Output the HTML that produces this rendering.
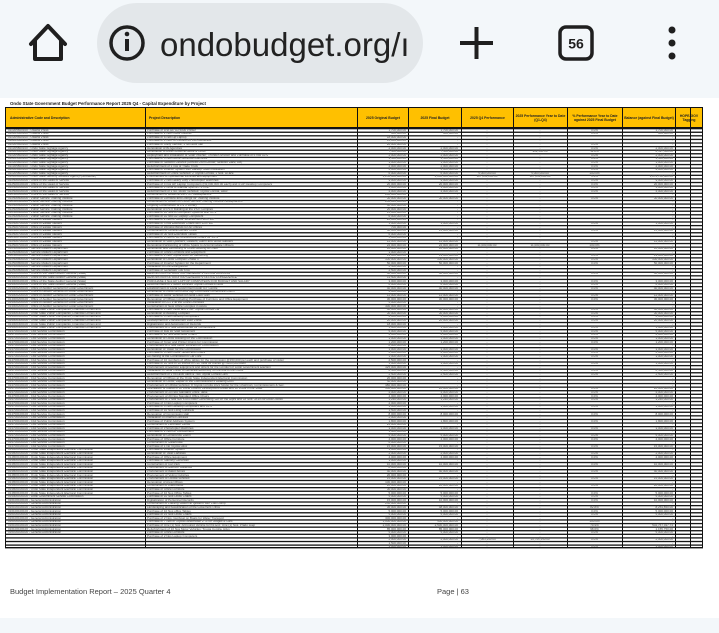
<!DOCTYPE html>
<html><head><meta charset="utf-8"><style>
*{margin:0;padding:0;box-sizing:border-box}
body{width:719px;height:633px;overflow:hidden;background:#fff;position:relative;font-family:"Liberation Sans",sans-serif}
.a{position:absolute}
.col{position:absolute;top:128.6px;white-space:pre;font-size:3px;line-height:3.59px;color:#555;overflow:hidden;height:419px}
.r{text-align:right}
.c{text-align:center}
.v{position:absolute;top:107px;height:441px;width:1.2px;background:#111}
.h{position:absolute;top:107px;height:21px;background:#ffc000;border:1px solid #111;font-size:3.4px;font-weight:bold;color:#222;display:flex;align-items:center;justify-content:center;text-align:center;line-height:4px}
</style></head><body>
<div class="a" style="left:0;top:0;width:719px;height:98px;background:#f3f7fa"></div>
<div class="a" style="left:0;top:618px;width:719px;height:15px;background:#f3f7fa"></div>
<svg class="a" style="left:0;top:0" width="719" height="95">
<path d="M31 44 L48 26 L65 44 M35 40 V59 H61 V40" fill="none" stroke="#1f1f1f" stroke-width="4" stroke-linejoin="round" stroke-linecap="round"/>
<rect x="97" y="3" width="326" height="80" rx="40" fill="#e3e7ea"/>
<circle cx="127" cy="43" r="16" fill="none" stroke="#1f1f1f" stroke-width="3.5"/>
<rect x="125" y="39" width="4" height="12" fill="#1f1f1f"/><circle cx="127" cy="34" r="2.3" fill="#1f1f1f"/>
<text x="160" y="56" font-family="Liberation Sans, sans-serif" font-size="33" fill="#222">ondobudget.org/ı</text>
<path d="M460 43 H493 M476.5 27 V59" stroke="#1f1f1f" stroke-width="4"/>
<rect x="560" y="27" width="32" height="32" rx="6" fill="none" stroke="#1f1f1f" stroke-width="3.5"/>
<text x="576" y="48.5" text-anchor="middle" font-family="Liberation Sans, sans-serif" font-size="14" font-weight="bold" fill="#1f1f1f">56</text>
<circle cx="672" cy="30" r="3.5" fill="#1f1f1f"/><circle cx="672" cy="43" r="3.5" fill="#1f1f1f"/><circle cx="672" cy="56" r="3.5" fill="#1f1f1f"/>
</svg>
<div class="a" style="left:10px;top:100.5px;font-size:4.4px;font-weight:bold;color:#222">Ondo State Government Budget Performance Report 2025 Q4 - Capital Expenditure by Project</div>
<svg class="a" style="left:5px;top:128px" width="698" height="421">
<defs><pattern id="p" width="698" height="3.59" patternUnits="userSpaceOnUse"><rect width="698" height="1.3" fill="#111"/></pattern></defs>
<rect width="698" height="420" fill="url(#p)"/>
<rect y="419" width="698" height="1.4" fill="#111"/>
</svg>
<div class="h" style="left:5px;width:141px;justify-content:flex-start;padding-left:4px">Administrative Code and Description</div>
<div class="h" style="left:145px;width:213px;justify-content:flex-start;padding-left:3px">Project Description</div>
<div class="h" style="left:357px;width:52px">2025 Original Budget</div>
<div class="h" style="left:408px;width:54px">2025 Final Budget</div>
<div class="h" style="left:461px;width:53px">2025 Q4 Performance</div>
<div class="h" style="left:513px;width:55px">2025 Performance Year to Date (Q1-Q4)</div>
<div class="h" style="left:567px;width:56px">% Performance Year to Date against 2025 Final Budget</div>
<div class="h" style="left:622px;width:54px">Balance (against Final Budget)</div>
<div class="h" style="left:675px;width:28px">HOPE-GOV Tagging</div>
<div class="v" style="left:5px"></div><div class="v" style="left:145px"></div><div class="v" style="left:357px"></div><div class="v" style="left:408px"></div><div class="v" style="left:461px"></div><div class="v" style="left:513px"></div><div class="v" style="left:567px"></div><div class="v" style="left:622px"></div><div class="v" style="left:675px"></div><div class="v" style="left:690px"></div><div class="v" style="left:702px"></div>
<div class="col" style="left:8px;width:136px">011305600100 - Owena Press
011305600100 - Owena Press
011305600100 - Owena Press
011305600100 - Owena Press
011305600100 - Owena Press
011305800100 - Ondo State Signage Agency
011305800100 - Ondo State Signage Agency
011305800100 - Ondo State Signage Agency
011305800100 - Ondo State Signage Agency
011305800100 - Ondo State Signage Agency
011305800100 - Ondo State Signage Agency
011305800100 - Ondo State Signage Agency
011305800100 - Ondo State Signage Agency
011306000100 - Ondo State Security Network Agency (Amotekun)
012500100100 - Office of the Head of Service
012500100100 - Office of the Head of Service
012500100100 - Office of the Head of Service
012500100100 - Office of the Head of Service
012500100100 - Office of the Head of Service
012500600100 - Public Service Training Institute
012500600100 - Public Service Training Institute
012500600100 - Public Service Training Institute
012500600100 - Public Service Training Institute
012500600100 - Public Service Training Institute
012500600100 - Public Service Training Institute
012500700100 - Office of Estate Valuers
012500700100 - Office of Estate Valuers
012500700100 - Office of Estate Valuers
012500700100 - Office of Estate Valuers
012500700100 - Office of Estate Valuers
012500700100 - Office of Estate Valuers
012500700100 - Office of Estate Valuers
012500700100 - Office of Estate Valuers
012500800100 - Service Matters Department
012500800100 - Service Matters Department
012500800100 - Service Matters Department
012500800100 - Service Matters Department
012500800100 - Service Matters Department
012500800100 - Service Matters Department
012500800100 - Service Matters Department
014000100100 - Office of the State Auditor General (State)
014000100100 - Office of the State Auditor General (State)
014000100100 - Office of the State Auditor General (State)
014000100100 - Office of the State Auditor General (State)
014000200100 - Office of Auditor General for Local Government
014000200100 - Office of Auditor General for Local Government
014000200100 - Office of Auditor General for Local Government
014000200100 - Office of Auditor General for Local Government
014000200100 - Office of Auditor General for Local Government
014000200100 - Office of Auditor General for Local Government
014000300100 - Ondo State Public Complaints, Financial Crimes and
014000300100 - Ondo State Public Complaints, Financial Crimes and
014000300100 - Ondo State Public Complaints, Financial Crimes and
014000300100 - Ondo State Public Complaints, Financial Crimes and
014000300100 - Ondo State Public Complaints, Financial Crimes and
014000300100 - Ondo State Public Complaints, Financial Crimes and
014700100100 - Civil Service Commission
014700100100 - Civil Service Commission
014700100100 - Civil Service Commission
014700100100 - Civil Service Commission
014700100100 - Civil Service Commission
014700100100 - Civil Service Commission
014700100100 - Civil Service Commission
014700100100 - Civil Service Commission
014700100100 - Civil Service Commission
014700100100 - Civil Service Commission
014700100100 - Civil Service Commission
014700100100 - Civil Service Commission
014700100100 - Civil Service Commission
014700100100 - Civil Service Commission
014700100100 - Civil Service Commission
014700100100 - Civil Service Commission
014700100100 - Civil Service Commission
014700100100 - Civil Service Commission
014700100100 - Civil Service Commission
014700100100 - Civil Service Commission
014700100100 - Civil Service Commission
014700100100 - Civil Service Commission
014700100100 - Civil Service Commission
014700100100 - Civil Service Commission
014700100100 - Civil Service Commission
014700100100 - Civil Service Commission
014700100100 - Civil Service Commission
014700100100 - Civil Service Commission
014700100100 - Civil Service Commission
014700100100 - Civil Service Commission
014700100100 - Civil Service Commission
014700100100 - Civil Service Commission
014700100100 - Civil Service Commission
014800100100 - Ondo State Independent Electoral Commission
014800100100 - Ondo State Independent Electoral Commission
014800100100 - Ondo State Independent Electoral Commission
014800100100 - Ondo State Independent Electoral Commission
014800100100 - Ondo State Independent Electoral Commission
014800100100 - Ondo State Independent Electoral Commission
014800100100 - Ondo State Independent Electoral Commission
014800100100 - Ondo State Independent Electoral Commission
014800100100 - Ondo State Independent Electoral Commission
014800100100 - Ondo State Independent Electoral Commission
014800100100 - Ondo State Independent Electoral Commission
014800100100 - Ondo State Independent Electoral Commission
014800100100 - Ondo State Independent Electoral Commission
014900100100 - Local Government Service Commission
016100100100 - General Administration
016100100100 - General Administration
016100100100 - General Administration
016100100100 - General Administration
016100100100 - General Administration
016100100100 - General Administration
016100100100 - General Administration
016100100100 - General Administration
016100100100 - General Administration
016100100100 - General Administration</div>
<div class="col" style="left:147px;width:208px">Purchase of 1No HP A3 5000 Printer
Purchase of 2 Nos Office Cabinet
Purchase of 8 Nos Hp Laptop
Purchase of 1 Nos. of Perkins 60 KVA Generator
Purchase of Utility Vehicle, 1 No Hilux Van
Renovation of Bi Agencies
Renovation of Area Offices at Akure &amp; Ondo
Deployment and Installation of Solar Inverter, Thunder Arrestor and Purchase of 6 nos UPS
Purchase of 4 Nos Dome Workflow Machines
Purchase of Network Devices (Access Point Router, Network Rack, etc)
Refurbishment of 1 nos of Trade Truck
Purchase of Inverter System with Backup Solar Installation
Refurbishment of Office Vehicles: 2 Toyota Corolla, 1 Nos. Hi-ace
Procurement of Operational Vehicles and Equipment
Purchase of 2 Nos Heavy Duty Photocopier Machines
Purchase of 4 nos HP Laptop Computers (N3,000,000.00 each) and 4 HP Desktop Computers
Purchase of 1 Units of Manual Split A/C 1.5 HP
Refurbishment of 1 No. Motor Vehicles: Toyota Corolla, Hilux
Construction of Hostel at the PSTI Headquarters
Purchase of Furniture and Fittings for Training Institute
Construction of Hostel for Public Service Training Institute Headquarters
Ongoing Construction of PSTI Library
Renovation of PSTI Building at the PSTI Complex
Purchase of 10 Nos of Computer Systems with UPS
Purchase of 10 nos HP Laptop Computers
Purchase of 2 Nos of Motor Vehicles with 12% VAT
Purchase of 5 nos Executive Chairs with 12% VAT
Purchase of Window Blinds for All Offices
Construction of Central Record Office
Purchase of 30 Nos Executive Tables
Purchase of 1 Nos of HP/A Executive Chairs for VIPS
Renovation of Staff Quarters, Ladders, Alarm and Wood Markers
Renovation/Partitioning of Office Space to Accommodate Officers
Renovation and Re-roofing of Office Building at Ondo
Purchase of Office Furniture and Equipment
Purchase of 1 Nos Toyota Hilux for Monitoring
Renovation of Office Complex Phase II
Purchase of Inverter System for the Department
Installation of Fire Extinguisher
Purchase of Generator 100 KVA
RENOVATION OF AUDITOR GENERAL'S OFFICE BUILDING
RENOVATION OF AUDITOR GENERAL'S OFFICE CONFERENCE
PURCHASE 4 Nos HP LAPTOP COMPUTERS FOR BUDGET AND SALARY
Refurbishment of 1 Motor Vehicles Toyota Corolla &amp; Hilux
Establishment of Local Government Audit ICT Centre
Renovation of Local Govt Audit Mgt Committee Conference Room
Purchase of Motor Vehicles for Audit Field Staff
Renovation of Offices including Purchase of Furniture and Office Equipment
Installation of CCTV at the Office Premises
Construction of New Office Complex in Akure
Purchase of 1 Nos. Hilux and 1 No. Toyota Corolla Car
Renovation of Building Complex
Purchase of 4 Nos Desktop Computers
Development of Procurement Web Portal
Digitalization and Automation of Records
Procurement of 2 Nos Refurbished Air Conditioners
Purchase of Bus for Staff Movement
Purchase of 20 Nos Executive Chairs
Renovation of Office Building for the Commission
Purchase of Toner and Printer Drums for Commission
Procurement of 2 Nos Motor Vehicles for Commission
Renovation of Tower for the Commission
Purchase of 6 Nos Office Tables and Chairs
Re-roofing of the Commission's Car Park
Purchase of 10 numbers of office tables for the commission @150,000 per each and purchase of visitor
Purchase of 10 Nos of 18 inches of CRT fans for offices @ N100,000 each
Procurement of Election Equipment and others for the Conduct of Local Government Election
Installation of Solar Panel to Generate Electricity for the use of the Office
Refurbishment of 1 no Hilux Vans &amp; Two Toyota Corolla Cars
Renovation of Offices at the Ondo State Independent Electoral Commission
Renovation of Office, Repair of the Commissioner's Leaking Roof
Procurement of Official Vehicles: 8 Toyota Corolla 2022 Model for the Chairman, Commissioners &amp; Sec.
Delineation of Wards in 18 Local Council Development Areas and 18 LGAs in the State
Procurement of 20 Nos Standard Office Table
Procurement of 20 Nos Standard Office Chairs
Procurement of 1 Nos 500 KVA Power Generating Set for the Hqtrs and 18 Nos. 3KVA for Area Offices
Purchase of 4 Nos Laptop Computers
Purchase of 4 Nos Desktop Computers and UPS
Purchase of 10 Nos Filing Cabinets
Renovation of Commission Hall
Installation of Internet Facilities
Purchase of Public Address System
Construction of Perimeter Fence
Purchase of Photocopier Machines
Purchase of 2 Nos Air Conditioners
Renovation of Conference Room
Purchase of Office Furniture
Construction of Gatehouse
Purchase of 1 No Toyota Hilux
Purchase of Inverter System
Renovation of Toilet Facilities
Purchase of Office Equipment
Purchase of Standby Generator
Construction of Car Park
Procurement of Election Materials
Procurement of Ballot Boxes
Procurement of Voting Cubicles
Procurement of Official Vehicles
Renovation of Area Offices
Construction of Warehouse
Purchase of Office Furniture
Purchase of 10 Nos Office Tables
Purchase of 10 Nos Office Chairs
Digitalization of Personnel Records
Construction of Fuelling Station at Igbatoro with Fuel Dump
Landscaping and beautification of the Governors Office
Purchase of 10 Nos office Tables
Purchase of 15 Nos Office Chairs
Purchase of 2 Nos. Gunboat on Boats for Water Transport
Purchase of 7 Nos of Toyota Landcruiser 2.7L for Judges &amp; Cars
Purchase of One (1) Nos. Armoured Vehicle for his Exc. One (1) Nos. Prado Jeep
Refurbishment of 10 Nos Motor Vehicles: Toyota Corolla, Hilux
Purchase of Office Furniture
Purchase of 2 Nos Laptop Computers</div>
<div class="col r" style="left:359px;width:47px">1,700,000.00
300,000.00
18,000,000.00
15,000,000.00
20,000,000.00
2,000,000.00
7,500,000.00
2,000,000.00
1,500,000.00
3,000,000.00
2,000,000.00
4,000,000.00
6,000,000.00
1,250,000,000.00
9,000,000.00
20,000,000.00
1,000,000.00
4,000,000.00
200,000,000.00
30,000,000.00
250,000,000.00
40,000,000.00
20,000,000.00
15,000,000.00
6,000,000.00
20,000,000.00
1,000,000.00
700,000.00
60,000,000.00
6,000,000.00
5,000,000.00
12,000,000.00
22,000,000.00
10,000,000.00
3,000,000.00
13,000,000.00
100,000,000.00
50,000,000.00
2,500,000.00
2,500,000.00
40,000,000.00
11,500,000.00
3,000,000.00
6,000,000.00
40,000,000.00
4,000,000.00
12,000,000.00
30,000,000.00
5,000,000.00
300,000,000.00
40,000,000.00
30,000,000.00
2,000,000.00
20,000,000.00
18,000,000.00
1,600,000.00
5,000,000.00
2,000,000.00
3,000,000.00
1,200,000.00
8,000,000.00
3,000,000.00
2,000,000.00
3,000,000.00
2,500,000.00
1,000,000.00
325,000,000.00
6,500,000.00
2,500,000.00
20,000,000.00
50,000,000.00
480,000,000.00
100,000,000.00
4,000,000.00
4,000,000.00
3,240,000.00
2,000,000.00
3,000,000.00
1,500,000.00
8,000,000.00
2,000,000.00
1,800,000.00
25,000,000.00
3,000,000.00
1,600,000.00
5,000,000.00
4,000,000.00
6,000,000.00
15,000,000.00
3,000,000.00
2,000,000.00
4,000,000.00
3,000,000.00
10,000,000.00
8,000,000.00
40,000,000.00
20,000,000.00
15,000,000.00
100,000,000.00
20,000,000.00
30,000,000.00
5,000,000.00
5,000,000.00
15,000,000.00
250,000,000.00
36,000,000.00
5,000,000.00
5,000,000.00
300,000,000.00
1,000,000,000.00
2,000,000,000.00
85,000,000.00
5,000,000.00
3,000,000.00
2,000,000.00
1,500,000.00
1,000,000.00</div>
<div class="col r" style="left:410px;width:48px">1,700,000.00
300,000.00
-
-
-
2,000,000.00
7,500,000.00
2,000,000.00
1,500,000.00
3,000,000.00
2,000,000.00
4,000,000.00
6,000,000.00
2,000,000,000.00
9,000,000.00
20,000,000.00
1,000,000.00
4,000,000.00
-
30,000,000.00
-
-
-
-
-
-
1,000,000.00
-
15,000,000.00
-
-
12,000,000.00
22,000,000.00
10,000,000.00
-
13,000,000.00
100,000,000.00
50,000,000.00
-
-
40,000,000.00
-
3,000,000.00
6,000,000.00
40,000,000.00
-
12,000,000.00
30,000,000.00
-
-
40,000,000.00
30,000,000.00
2,000,000.00
20,000,000.00
-
1,600,000.00
5,000,000.00
2,000,000.00
3,000,000.00
1,200,000.00
-
3,000,000.00
2,000,000.00
3,000,000.00
-
1,000,000.00
-
6,500,000.00
2,500,000.00
-
-
-
20,000,000.00
4,000,000.00
4,000,000.00
3,240,000.00
-
3,000,000.00
-
8,000,000.00
-
1,800,000.00
-
3,000,000.00
-
5,000,000.00
4,000,000.00
-
15,000,000.00
-
2,000,000.00
4,000,000.00
-
10,000,000.00
-
40,000,000.00
-
15,000,000.00
-
20,000,000.00
-
5,000,000.00
5,000,000.00
10,000,000.00
-
48,000,000.00
5,000,000.00
5,000,000.00
-
500,000,000.00
2,500,000,000.00
85,000,000.00
5,000,000.00
-
2,000,000.00
-
1,000,000.00</div>
<div class="col c" style="left:461px;width:52px">-
-
-
-
-
-
-
-
-
-
-
-
5,000,000.00
127,291,200.00
-
-
-
-
-
-
-
-
-
-
-
-
-
-
-
-
-
-
11,000,000.00
-
-
-
-
-
-
-
-
-
-
-
-
-
-
-
-
-
-
-
-
-
-
-
-
-
-
-
-
-
-
-
-
-
-
-
-
-
-
-
-
-
-
-
-
-
-
-
-
-
-
-
-
-
-
-
-
-
-
-
-
-
-
-
-
-
-
-
-
-
-
-
-
-
-
-
-
-
-
-
-
-
7,063,290.00
-
-
-
231,112,500.00
46,276,930.00
20,844,250.00
-
-
-
-
-</div>
<div class="col c" style="left:513px;width:54px">-
-
-
-
-
-
962,500.00
-
-
-
-
-
5,000,000.00
127,291,200.00
-
-
-
-
-
-
-
-
-
-
-
-
-
-
-
-
-
-
11,000,000.00
-
-
-
-
-
-
-
-
-
-
-
-
-
-
-
-
-
-
-
-
-
-
-
-
-
-
-
-
-
-
-
-
-
-
-
-
-
-
-
-
-
-
-
-
-
-
-
-
-
-
-
-
-
-
-
-
-
-
-
-
-
-
-
-
-
-
-
-
-
-
-
-
-
-
-
-
-
-
-
-
-
39,745,150.00
-
-
-
500,000,000.00
1,997,232,062.26
83,844,250.00
-
-
-
-
-</div>
<div class="col c" style="left:567px;width:55px">0.0%
0.0%


0.0%
0.0%
12.8%
0.0%
0.0%
0.0%
0.0%
0.0%
100.0%
6.4%
0.0%
0.0%
0.0%
0.0%

0.0%






0.0%

0.0%


0.0%
100.0%
0.0%

0.0%
0.0%
0.0%


0.0%

0.0%
0.0%
0.0%

0.0%
0.0%


0.0%
0.0%
0.0%
0.0%

0.0%
0.0%
0.0%
0.0%
0.0%

0.0%
0.0%
0.0%

0.0%

0.0%
0.0%



0.0%
0.0%
0.0%
0.0%

0.0%

0.0%

0.0%

0.0%

0.0%
0.0%

0.0%

0.0%
0.0%

0.0%

0.0%

0.0%

0.0%

0.0%
0.0%
0.0%

82.8%
0.0%
0.0%

100.0%
79.9%
98.6%
0.0%

0.0%

0.0%</div>
<div class="col r" style="left:624px;width:49px">1,700,000.00
300,000.00
-
-
-
2,000,000.00
6,537,500.00
2,000,000.00
1,500,000.00
3,000,000.00
2,000,000.00
4,000,000.00
-
1,872,708,800.00
9,000,000.00
20,000,000.00
1,000,000.00
4,000,000.00
-
30,000,000.00
-
-
-
-
-
-
1,000,000.00
-
15,000,000.00
-
-
12,000,000.00
-
10,000,000.00
-
13,000,000.00
100,000,000.00
50,000,000.00
-
-
40,000,000.00
-
3,000,000.00
6,000,000.00
40,000,000.00
-
12,000,000.00
30,000,000.00
-
-
40,000,000.00
30,000,000.00
2,000,000.00
20,000,000.00
-
1,600,000.00
5,000,000.00
2,000,000.00
3,000,000.00
1,200,000.00
-
3,000,000.00
2,000,000.00
3,000,000.00
-
1,000,000.00
-
6,500,000.00
2,500,000.00
-
-
-
20,000,000.00
4,000,000.00
4,000,000.00
3,240,000.00
-
3,000,000.00
-
8,000,000.00
-
1,800,000.00
-
3,000,000.00
-
5,000,000.00
4,000,000.00
-
15,000,000.00
-
2,000,000.00
4,000,000.00
-
10,000,000.00
-
40,000,000.00
-
15,000,000.00
-
20,000,000.00
-
5,000,000.00
5,000,000.00
10,000,000.00
-
8,254,850.00
5,000,000.00
5,000,000.00
-
-
502,767,937.74
1,155,750.00
5,000,000.00
-
2,000,000.00
-
1,000,000.00</div>
<div class="a" style="left:10px;top:587px;font-size:7.5px;color:#444;font-family:'Liberation Sans',sans-serif">Budget Implementation Report – 2025 Quarter 4</div>
<div class="a" style="left:437px;top:587px;font-size:7.5px;color:#444;font-family:'Liberation Sans',sans-serif">Page | 63</div>
</body></html>
